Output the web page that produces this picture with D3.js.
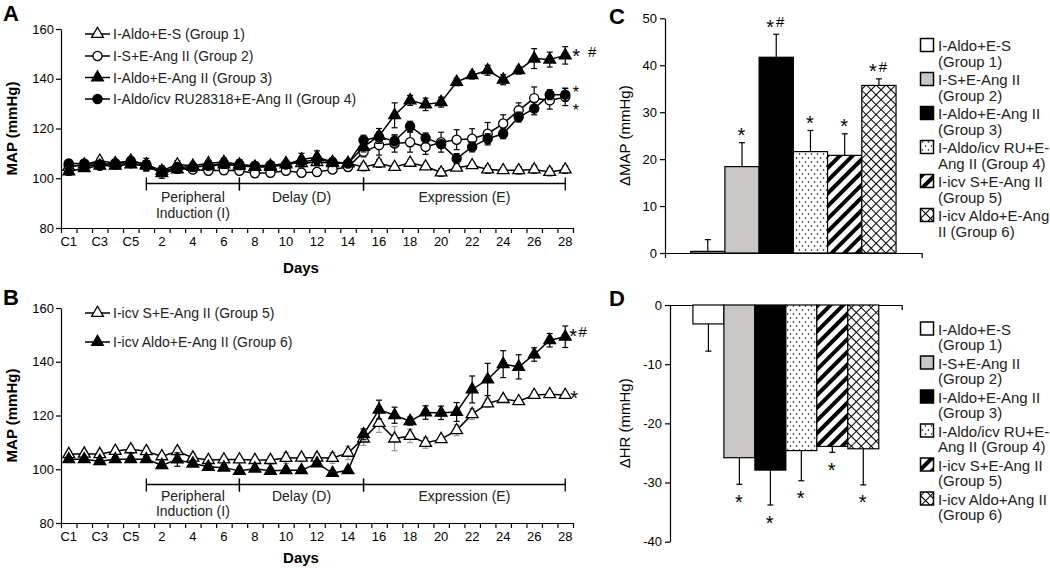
<!DOCTYPE html>
<html><head><meta charset="utf-8">
<script src="https://cdnjs.cloudflare.com/ajax/libs/d3/7.8.5/d3.min.js"></script>
<style>
body{margin:0;background:#fff;}
svg{display:block;font-family:"Liberation Sans",Arial,Helvetica,sans-serif;}
</style></head><body>
<svg id="chart" width="1050" height="568"></svg>
<script>
// ---------------- DATA ----------------
const days = ["C1","C2","C3","C4","C5","1","2","3","4","5","6","7","8","9","10","11","12","13","14",
  "15","16","17","18","19","20","21","22","23","24","25","26","27","28"];
const dayTickLabels = ["C1","C3","C5","2","4","6","8","10","12","14","16","18","20","22","24","26","28"];
const mapTicks = [80,100,120,140,160];

// Panel A
const g1Name = "I-Aldo+E-S (Group 1)";
const g1Vals = [104.5,105.5,107,106,107, 105.5,103,105.5,105,106,106.5,105.5,104.5,105,106,106,106.5,106,106,
  104.5,105.9,104.5,106.2,104.7,102.3,104.2,105.2,103.5,103.2,103.2,103.5,102.5,103.5];
const g1Err = [1,1,1.2,1,1, 2.5,1.5,1.5,1,1.2,1.5,1.5,1.2,1,1.2,1.2,1.5,1.2,1.2, 1.5,1.5,1,1,1,1.5,1,1,1.5,1,1.5,1.5,1.5,1.5];
const g2Name = "I-S+E-Ang II (Group 2)";
const g2Vals = [105,105.2,105,105.5,106, 105,103,103.8,103.5,103,103.2,103,102,102.2,103,102.2,102.5,103.5,104.5,
  110.6,113.3,114,114.5,112.6,114.5,115.5,115.9,117.9,122,127.3,132.2,131.3,132.7];
const g2Err = [1,1,1,1,1, 2,2,1.5,1.5,1.5,1.5,1.5,1.5,1.5,1.5,1.5,1.5,1.5,1.5, 2,4,3.5,4,3,4,4,4,4.5,3.5,3,4.5,3.5,3.5];
const g3Name = "I-Aldo+E-Ang II (Group 3)";
const g3Vals = [102.7,104,105,105,105.5, 105,102,103.5,104.5,105,105.5,105,104.5,104.5,105.5,107.5,108.5,106.5,106,
  112.6,117,125.3,131.3,129.7,130.6,138.7,141.4,143.4,139.6,143.4,148.1,147.7,149.4];
const g3Err = [1.5,1,1,1,1, 2,2,1.5,1.5,1.5,1.5,1.5,1,1,1.5,2.5,2.5,1.5,1.5, 2,3,5,2,2.5,2,1.5,1.5,2,2,1.5,4,3,3.5];
const g4Name = "I-Aldo/icv RU28318+E-Ang II (Group 4)";
const g4Vals = [105.9,105.9,105.5,106,107, 105.5,102.5,104.5,104.5,105,106,105.5,105,105.2,105.5,106.5,107.5,106.5,105.9,
  115.3,116.6,115,120.9,116.2,113.7,107.9,112.6,115.9,117.9,124.6,128,133.6,133.6];
const g4Err = [1,1,1,1,1, 1.5,1.5,1.5,1.5,1.5,2,2,1,1,1.5,2,2,1.5,1.5, 2,2,2,2,2,1.5,2,2,2,2,2,2.5,2,2.5];

// Panel B
const g5Name = "I-icv S+E-Ang II (Group 5)";
const g5Vals = [105.6,105.8,105.6,106.8,107.4, 106.7,104.8,106.7,104.3,103.4,103.6,103.6,103.4,103.4,104.2,104.3,104.3,104.2,106.1,
  111.4,117.2,111.4,112.4,109.8,111.2,114.5,120.5,124.5,126.1,125.3,127.6,127.9,127.6];
const g5Err = [1,1,1.2,1.2,1.5, 1.5,1.2,1.5,1.5,1.2,1.2,1.2,1.2,1.5,2,1.5,1.5,2,2.5, 2.5,3.5,4.5,2.5,2,1,2,2,1.5,1,1,1.2,1,1.3];
const g6Name = "I-icv Aldo+E-Ang II (Group 6)";
const g6Vals = [103.7,103.7,103,103.7,103.7, 103.7,101.5,103.6,102.1,100.9,100.6,99.4,100.2,99.4,99.6,99.6,102.2,98.6,99.6,
  113,122.2,120.1,117.9,121.1,121,121.3,129.7,133.4,139.1,138.1,142.7,148,149.3];
const g6Err = [1,1,1.2,1,1, 1,1.2,2.5,1,1,1,1,1,1,1,1,1,1,1, 2,3.5,3,1.5,2.5,2.5,3.5,5,6,5,4.5,2.5,2.5,4];

// Phases (bracket start/end day)
const phaseLabels = [["Peripheral","Induction (I)"],["Delay (D)"],["Expression (E)"]];
const phaseStart = ["1","7","15"];
const phaseEnd = ["7","15","28"];

// Panels C and D
const barGroups = ["G1","G2","G3","G4","G5","G6"];
const dMapVals = [0.35,18.4,41.7,21.6,20.8,35.7];
const dMapErr = [2.5,5.1,4.9,4.5,4.6,1.4];
const dMapSig = ["","*","*#","*","*","*#"];
const dMapTicks = [0,10,20,30,40,50];
const dHrVals = [-3.2,-25.8,-27.9,-24.6,-23.9,-24.3];
const dHrErr = [4.6,4.5,5.9,5.1,1.0,6.1];
const dHrSig = ["","*","*","*","*","*"];
const dHrTicks = [-40,-30,-20,-10,0];
const legendC = [["I-Aldo+E-S","(Group 1)"],["I-S+E-Ang II","(Group 2)"],["I-Aldo+E-Ang II","(Group 3)"],
  ["I-Aldo/icv RU+E-","Ang II (Group 4)"],["I-icv S+E-Ang II","(Group 5)"],["I-icv Aldo+E-Ang","II (Group 6)"]];
const legendD = [["I-Aldo+E-S","(Group 1)"],["I-S+E-Ang II","(Group 2)"],["I-Aldo+E-Ang II","(Group 3)"],
  ["I-Aldo/icv RU+E-","Ang II (Group 4)"],["I-icv S+E-Ang II","(Group 5)"],["I-icv Aldo+Ang II","(Group 6)"]];

// ---------------- DRAWING ----------------
const svg = d3.select("#chart");
const defs = svg.append("defs");
const pDots = defs.append("pattern").attr("id","dots").attr("patternUnits","userSpaceOnUse").attr("width",6).attr("height",8);
pDots.append("rect").attr("width",6).attr("height",8).attr("fill","#fff");
pDots.append("circle").attr("cx",1.5).attr("cy",2).attr("r",0.8).attr("fill","#000");
pDots.append("circle").attr("cx",4.5).attr("cy",6).attr("r",0.8).attr("fill","#000");
const pStr = defs.append("pattern").attr("id","stripes").attr("patternUnits","userSpaceOnUse")
  .attr("width",9).attr("height",9).attr("patternTransform","rotate(45)");
pStr.append("rect").attr("width",9).attr("height",9).attr("fill","#fff");
pStr.append("rect").attr("width",4).attr("height",9).attr("fill","#000");
const pCr = defs.append("pattern").attr("id","cross").attr("patternUnits","userSpaceOnUse")
  .attr("width",7).attr("height",7).attr("patternTransform","rotate(45)");
pCr.append("rect").attr("width",7).attr("height",7).attr("fill","#fff");
pCr.append("path").attr("d","M0,0.5H7M0.5,0V7").attr("stroke","#000").attr("stroke-width",1);
const barFills = ["#fff","#c9c6c6","#000","url(#dots)","url(#stripes)","url(#cross)"];

function styleAxis(g){
  g.selectAll("path,line").attr("stroke","#000").attr("stroke-width",1.2);
  g.selectAll("text").attr("fill","#000").style("font-family",'"Liberation Sans",Arial,sans-serif');
}

const x = d3.scaleBand().domain(days).range([61,573]).padding(0);
const xEdge = d3.scaleLinear().domain([0, days.length]).range([61,573]);
const cx = d => x(d) + x.bandwidth()/2;

function marker(type){ return d3.symbol(type === "triangle" ? d3.symbolTriangle : d3.symbolCircle, type === "triangle" ? 60 : 66)(); }

// asterisk (optionally followed by '#') centred vertically on cy
function drawStar(g, x0, cy, withHash, hashGap, size){
  const fs = size || 20;
  const t = g.append("text").attr("x", x0).attr("y", cy + fs*0.575).attr("fill","#000");
  t.append("tspan").attr("font-size",fs).text("*");
  if (withHash) t.append("tspan").attr("font-size",15).attr("dx", hashGap).attr("dy",-6.3).text("#");
}

function linePanel(o){
  const g = svg.append("g");
  const y = d3.scaleLinear().domain([80,160]).range([o.y0, o.y1]);
  const ya = g.append("g").attr("transform","translate(61,0)")
    .call(d3.axisLeft(y).tickValues(mapTicks).tickSize(5).tickSizeOuter(0).tickPadding(2));
  ya.selectAll("text").attr("font-size",13);
  styleAxis(ya);
  const xt = g.append("g").attr("transform",`translate(0,${o.y0})`)
    .call(d3.axisBottom(xEdge).tickValues(d3.range(0, days.length + 1)).tickSize(5).tickSizeOuter(0).tickFormat(""));
  styleAxis(xt);
  const xl = g.append("g").attr("transform",`translate(0,${o.y0})`)
    .call(d3.axisBottom(x).tickValues(dayTickLabels).tickSize(0).tickPadding(9));
  xl.select(".domain").remove();
  xl.selectAll("text").attr("font-size",13);
  styleAxis(xl);
  g.append("text").attr("x",301).attr("y",o.daysY).attr("text-anchor","middle")
    .attr("font-size",15).attr("font-weight","bold").text("Days");
  g.append("text").attr("transform",`translate(17,${(o.y0+o.y1)/2}) rotate(-90)`).attr("text-anchor","middle")
    .attr("font-size",15).attr("font-weight","bold").text("MAP (mmHg)");
  g.append("text").attr("x",3).attr("y",o.letterY).attr("font-size",22).attr("font-weight","bold").text(o.letter);
  phaseLabels.forEach((lab,i)=>{
    const a = cx(phaseStart[i]), b = cx(phaseEnd[i]);
    g.append("line").attr("x1",a).attr("x2",b).attr("y1",o.phaseY).attr("y2",o.phaseY).attr("stroke","#000").attr("stroke-width",1.3);
    [a,b].forEach(px => g.append("line").attr("x1",px).attr("x2",px).attr("y1",o.phaseY-6).attr("y2",o.phaseY+7).attr("stroke","#000").attr("stroke-width",1.3));
    lab.forEach((t,j)=> g.append("text").attr("x",(a+b)/2).attr("y",o.phaseY+o.phaseDy+j*15.5)
      .attr("text-anchor","middle").attr("font-size",14).attr("fill","#222").text(t));
  });
  o.series.forEach(s=>{
    const sg = g.append("g");
    const pts = days.map((d,i)=>({d, v:s.vals[i], e:s.err[i]}));
    const eb = sg.append("g").attr("stroke", s.errColor).attr("stroke-width",1.2);
    pts.forEach(p=>{
      const px = cx(p.d);
      eb.append("line").attr("x1",px).attr("x2",px).attr("y1",y(p.v-p.e)).attr("y2",y(p.v+p.e));
      eb.append("line").attr("x1",px-3).attr("x2",px+3).attr("y1",y(p.v+p.e)).attr("y2",y(p.v+p.e));
      eb.append("line").attr("x1",px-3).attr("x2",px+3).attr("y1",y(p.v-p.e)).attr("y2",y(p.v-p.e));
    });
    sg.append("path").datum(pts).attr("fill","none").attr("stroke","#000").attr("stroke-width",1.5)
      .attr("d", d3.line().x(p=>cx(p.d)).y(p=>y(p.v)));
    sg.selectAll("path.m").data(pts).join("path").attr("class","m")
      .attr("transform", p=>`translate(${cx(p.d)},${y(p.v)})`)
      .attr("d", marker(s.marker)).attr("fill", s.fill).attr("stroke","#000").attr("stroke-width",1.3);
  });
  o.series.forEach((s,i)=>{
    const ly = o.legY[i];
    g.append("line").attr("x1",85).attr("x2",110).attr("y1",ly).attr("y2",ly).attr("stroke","#000").attr("stroke-width",1.5);
    g.append("path").attr("transform",`translate(97.5,${ly})`).attr("d",marker(s.marker))
      .attr("fill",s.fill).attr("stroke","#000").attr("stroke-width",1.3);
    g.append("text").attr("x",113).attr("y",ly+5).attr("font-size",14).attr("fill","#222").text(s.name);
  });
  const last = days[days.length-1];
  const lastY = k => y(o.series[k].vals[o.series[k].vals.length-1]);
  o.notes.forEach(n=> drawStar(g, cx(last)+n.dx, lastY(n.s) + n.dy, n.hash, n.hashGap, n.size));
  return y;
}

linePanel({
  letter:"A", letterY:21, y0:228, y1:29, daysY:273, phaseY:183.5, phaseDy:18.5,
  legY:[34,56,77.5,99],
  series:[
    {name:g1Name, vals:g1Vals, err:g1Err, marker:"triangle", fill:"#fff", errColor:"#000"},
    {name:g2Name, vals:g2Vals, err:g2Err, marker:"circle", fill:"#fff", errColor:"#000"},
    {name:g3Name, vals:g3Vals, err:g3Err, marker:"triangle", fill:"#000", errColor:"#000"},
    {name:g4Name, vals:g4Vals, err:g4Err, marker:"circle", fill:"#000", errColor:"#000"}
  ],
  notes:[{s:2,dx:7,dy:-4,hash:true,hashGap:8},{s:3,dx:7.5,dy:-6,size:16},{s:1,dx:7.5,dy:10,size:16}]
});
linePanel({
  letter:"B", letterY:305, y0:523, y1:308, daysY:563, phaseY:484.5, phaseDy:16,
  legY:[313,342],
  series:[
    {name:g5Name, vals:g5Vals, err:g5Err, marker:"triangle", fill:"#fff", errColor:"#999"},
    {name:g6Name, vals:g6Vals, err:g6Err, marker:"triangle", fill:"#000", errColor:"#000"}
  ],
  notes:[{s:1,dx:4,dy:-5,hash:true,hashGap:1.5},{s:0,dx:5,dy:-2}]
});

function barPanel(o){
  const g = svg.append("g");
  const xb = d3.scaleBand().domain(barGroups).range(o.xr).paddingInner(0).paddingOuter(o.pad);
  const y = d3.scaleLinear().domain(o.dom).range(o.yr);
  const ya = g.append("g").attr("transform",`translate(${o.xr[0]},0)`)
    .call(d3.axisLeft(y).tickValues(o.ticks).tickSize(5).tickSizeOuter(0).tickPadding(3).tickFormat(d=>String(d)));
  ya.selectAll("text").attr("font-size",13);
  styleAxis(ya);
  const xa = g.append("g").attr("transform",`translate(0,${y(0)})`)
    .call(d3.axisBottom(xb).tickValues([]).tickSizeOuter(5));
  styleAxis(xa);
  g.append("text").attr("transform",`translate(${o.labelX},${(o.yr[0]+o.yr[1])/2}) rotate(-90)`)
    .attr("text-anchor","middle").attr("font-size",15).text(o.label);
  g.append("text").attr("x",609).attr("y",o.letterY).attr("font-size",22).attr("font-weight","bold").text(o.letter);
  barGroups.forEach((k,i)=>{
    const v = o.vals[i], e = o.err[i];
    const bx = xb(k), bw = xb.bandwidth(), mx = bx + bw/2;
    const end = v >= 0 ? v + e : v - e;
    g.append("line").attr("x1",mx).attr("x2",mx).attr("y1",y(v)).attr("y2",y(end)).attr("stroke","#000").attr("stroke-width",1.2);
    g.append("line").attr("x1",mx-3).attr("x2",mx+3).attr("y1",y(end)).attr("y2",y(end)).attr("stroke","#000").attr("stroke-width",1.2);
    g.append("rect").attr("x",bx).attr("width",bw)
      .attr("y", Math.min(y(v),y(0))).attr("height", Math.abs(y(v)-y(0)))
      .attr("fill", barFills[i]).attr("stroke","#000").attr("stroke-width",1.2);
    if (o.sig[i]) {
      const cy = v >= 0 ? y(end) - 12 : y(end) + 13;
      const hasHash = o.sig[i].includes("#");
      drawStar(g, hasHash ? mx - 10 : mx - 4.5, cy, hasHash, 2);
    }
  });
  o.legend.forEach((lab,i)=>{
    const top = o.legTop + i*34;
    g.append("rect").attr("x",920.5).attr("y",top).attr("width",13).attr("height",13)
      .attr("fill",barFills[i]).attr("stroke","#000").attr("stroke-width",1.5);
    lab.forEach((t,j)=> g.append("text").attr("x",938).attr("y",top+12.5+j*15.5)
      .attr("font-size",15).attr("fill","#222").text(t));
  });
}

barPanel({letter:"C", letterY:24, xr:[665,921.7], pad:0.75, dom:[0,50], yr:[253,18.3], ticks:dMapTicks,
  vals:dMapVals, err:dMapErr, sig:dMapSig, label:"\u0394MAP (mmHg)", labelX:630, legend:legendC, legTop:38.5});
barPanel({letter:"D", letterY:306, xr:[670,901.7], pad:0.74, dom:[-40,0], yr:[541.7,305], ticks:dHrTicks,
  vals:dHrVals, err:dHrErr, sig:dHrSig, label:"\u0394HR (mmHg)", labelX:630, legend:legendD, legTop:322});
</script>
</body></html>
